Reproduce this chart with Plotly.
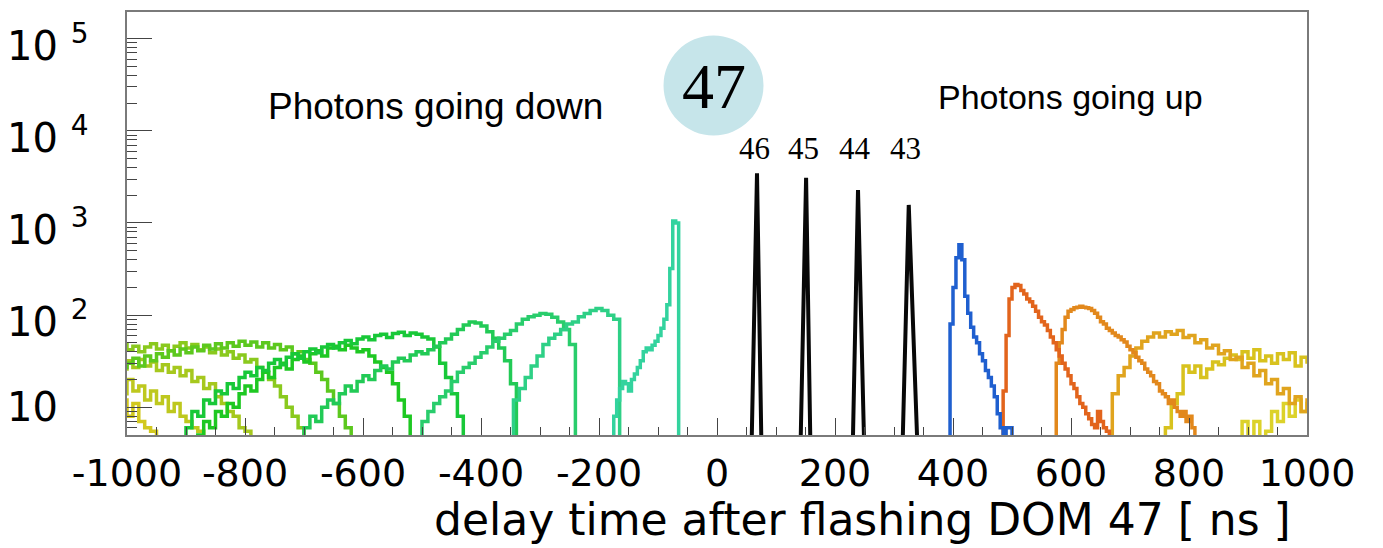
import math
import plotly.graph_objects as go

# ---------------- data (counts per bin) ----------------
# going-down histograms (negative delay), 10 ns or 5 ns bins
d58_start, d58_bin = -1020, 10
d58_counts = [10, 12, 8, 11, 7, 6, 5.5]
d57_start, d57_bin = -1020, 10
d57_counts = [18, 14, 20, 15, 17, 12, 15, 11, 13, 9, 11, 8, 7, 6, 5.5]
d56_start, d56_bin = -1020, 10
d56_counts = [30, 26, 32, 27, 33, 28, 31, 25, 29, 24, 27, 22, 25, 19, 21, 16, 18,
              13, 11, 9, 8, 6, 5.5]
d55_start, d55_bin = -1020, 10
d55_counts = [44, 48, 42, 46, 40, 45, 49, 43, 47, 41, 46, 50, 44, 48, 42, 45, 39,
              43, 37, 40, 34, 37, 31, 33, 27, 24, 20, 17, 13, 10, 8, 6]
d54_start, d54_bin = -1020, 10
d54_counts = [33, 27, 30, 34, 28, 36, 32, 38, 35, 41, 37, 43, 39, 45, 41, 47, 43,
              49, 44, 50, 46, 52, 47, 51, 45, 50, 44, 48, 42, 45, 38, 40, 33, 30,
              24, 20, 15, 11, 8, 6]
d53_start, d53_bin = -880, 10
d53_counts = [5, 7, 6, 9, 8, 11, 10, 14, 17, 15, 20, 24, 21, 27, 30, 26, 33, 36,
              31, 38, 41, 36, 44, 46, 42, 47, 44, 40, 42, 36, 31, 27, 24, 18, 12, 8]
d52_start, d52_bin = -900, 10
d52_counts = [6, 9, 8, 12, 11, 15, 14, 18, 16, 21, 24, 22, 27, 25, 30, 33, 29, 35,
              38, 34, 40, 43, 39, 45, 48, 44, 50, 53, 49, 55, 58, 54, 60, 62, 57,
              63, 65, 60, 64, 62, 58, 55, 45, 30, 21, 14, 8]
d51_start, d51_bin = -700, 10
d51_counts = [6, 8, 7, 10, 12, 11, 14, 17, 15, 19, 22, 20, 25, 28, 26, 31, 34, 32,
              37, 40, 38, 42, 46, 50, 55, 62, 70, 78, 84, 82, 76, 66, 56, 44, 32, 18]
d50_start, d50_bin = -500, 10
d50_counts = [7, 9, 11, 13, 15, 19, 24, 27, 30, 35, 39, 45, 52, 56, 62, 68, 80, 90,
              96, 100, 104, 102, 95, 84, 70, 48]
d49_start, d49_bin = -345, 10
d49_counts = [12, 16, 21, 28, 36, 48, 56, 62, 70, 80, 84, 96, 104, 112, 118, 112,
              100, 90]
d48_start, d48_bin = -175, 5
d48_counts = [8, 12, 16, 19, 18, 15, 20, 23, 27, 32, 40, 44, 42, 47, 52, 60, 72,
              90, 130, 320, 1050, 1000]

# going-up histograms (positive delay)
u42_start, u42_bin = 395, 5
u42_counts = [80, 200, 420, 580, 400, 160, 105, 74, 58, 50, 38, 32, 25, 21, 17, 13,
              8.5, 6, 3, 6, 6]
u41_start, u41_bin = 485, 5
u41_counts = [15, 60, 150, 200, 215, 210, 185, 170, 150, 140, 125, 110, 95, 85, 78,
              68, 58, 50, 42, 36, 30, 26, 22, 18, 16, 13, 11, 10, 8.5, 7.5, 6.5, 6,
              9, 7, 6, 5.5]
u40_start, u40_bin = 575, 5
u40_counts = [30, 50, 70, 95, 110, 115, 120, 122, 125, 122, 120, 118, 112, 105, 95,
              85, 80, 72, 68, 64, 60, 58, 54, 51, 46, 42, 39, 35, 32, 30, 26, 24,
              22, 19, 18, 15, 14, 13, 11, 12, 10, 9, 8, 9, 7, 8, 6]
u39_start, u39_bin = 670, 10
u39_counts = [14, 22, 27, 36, 44, 52, 58, 64, 58, 66, 62, 68, 57, 60, 50, 54, 44,
              47, 38, 41, 33, 35, 27, 30, 22, 25, 18, 20, 14, 16, 11, 13, 9, 12, 10]
u38_start, u38_bin = 760, 10
u38_counts = [6, 11, 14, 28, 24, 28, 21, 26, 31, 29, 34, 37, 33, 40, 34, 42, 32, 36,
              30, 38, 33, 39, 28, 35, 31, 33]
u37_start, u37_bin = 890, 10
u37_counts = [7, 4, 7, 4, 5.5, 9, 7, 11, 8, 12, 9, 11]

# direct-light spikes of the neighbouring DOMs (time, counts)
dom_labels = ["46", "45", "44", "43"]
s46_t = [59, 67.8, 75];   s46_n = [5, 3470, 5]
s45_t = [142, 151, 158];  s45_n = [5, 3100, 5]
s44_t = [230.5, 239, 249]; s44_n = [5, 2280, 5]
s43_t = [315, 325, 339];  s43_n = [5, 1570, 5]

x_tick_vals = [-1000, -800, -600, -400, -200, 0, 200, 400, 600, 800, 1000]
x_tick_text = ["-1000", "-800", "-600", "-400", "-200", "0", "200", "400", "600",
               "800", "1000"]
y_tick_vals = [10, 100, 1000, 10000, 100000]
y_tick_text = ["10", "10 <sup>2</sup>", "10 <sup>3</sup>", "10 <sup>4</sup>",
               "10 <sup>5</sup>"]

# ---------------- figure ----------------
FLOOR = 1.0


def step_xy(start, width, counts):
    edges = [start + i * width for i in range(len(counts) + 1)]
    x = [edges[0]] + edges[:-1] + [edges[-1]]
    y = [FLOOR] + list(counts) + [FLOOR]
    return x, y


hists = [
    (d58_start, d58_bin, d58_counts, "#d2c81e"),
    (d57_start, d57_bin, d57_counts, "#bec81e"),
    (d56_start, d56_bin, d56_counts, "#a6c81e"),
    (d55_start, d55_bin, d55_counts, "#8ac91e"),
    (d54_start, d54_bin, d54_counts, "#5cc81e"),
    (d53_start, d53_bin, d53_counts, "#1ec822"),
    (d52_start, d52_bin, d52_counts, "#18c838"),
    (d51_start, d51_bin, d51_counts, "#22ca56"),
    (d50_start, d50_bin, d50_counts, "#29cd6c"),
    (d49_start, d49_bin, d49_counts, "#2ed086"),
    (d48_start, d48_bin, d48_counts, "#33d39e"),
    (u37_start, u37_bin, u37_counts, "#dcd22a"),
    (u38_start, u38_bin, u38_counts, "#d8c21e"),
    (u39_start, u39_bin, u39_counts, "#e0a41e"),
    (u40_start, u40_bin, u40_counts, "#e2881c"),
    (u41_start, u41_bin, u41_counts, "#e2641c"),
    (u42_start, u42_bin, u42_counts, "#1f5fcf"),
]

fig = go.Figure()
for start, width, counts, color in hists:
    x, y = step_xy(start, width, counts)
    fig.add_trace(go.Scatter(x=x, y=y, mode="lines", line_shape="hv",
                             line=dict(color=color, width=3.5),
                             hoverinfo="skip", showlegend=False))

for t, n in [(s46_t, s46_n), (s45_t, s45_n), (s44_t, s44_n), (s43_t, s43_n)]:
    fig.add_trace(go.Scatter(x=t, y=n, mode="lines",
                             line=dict(color="#080808", width=4),
                             hoverinfo="skip", showlegend=False))

# The page body has an 8 px margin, so the figure is drawn 8 px in from the
# window corner; target positions below are in window pixels.
OFF = 8
WIN_W, WIN_H = 1383, 548
W, H = WIN_W - OFF, WIN_H - OFF
PLOT_L, PLOT_R, PLOT_T, PLOT_B = 127, 1307, 12, 435   # window pixels
L, T = PLOT_L - OFF, PLOT_T - OFF
R, B = (OFF + W) - PLOT_R, (OFF + H) - PLOT_B
PW, PH = PLOT_R - PLOT_L, PLOT_B - PLOT_T


def px(xp):
    return (xp - PLOT_L) / PW


def py(yp):
    return (PLOT_B - yp) / PH


annotations = []
# y tick labels (left aligned like the original)
for v, txt in zip(y_tick_vals, y_tick_text):
    annotations.append(dict(x=px(5), xref="paper", y=math.log10(v), yref="y",
                            text=txt, showarrow=False, xanchor="left",
                            yanchor="middle", yshift=-4 if "sup" in txt else 0,
                            font=dict(family="DejaVu Sans", size=40, color="black")))

# axis title
annotations.append(dict(x=px(862), xref="paper", y=py(519), yref="paper",
                        text="delay time after flashing DOM 47 [ ns ]",
                        showarrow=False, xanchor="center", yanchor="middle",
                        font=dict(family="DejaVu Sans", size=44, color="black")))

annotations.append(dict(x=px(435.5), xref="paper", y=py(106), yref="paper",
                        text="Photons going down", showarrow=False,
                        xanchor="center", yanchor="middle",
                        font=dict(family="Liberation Sans", size=37, color="black")))
annotations.append(dict(x=px(1070), xref="paper", y=py(97), yref="paper",
                        text="Photons going up", showarrow=False,
                        xanchor="center", yanchor="middle",
                        font=dict(family="Liberation Sans", size=34, color="black")))
annotations.append(dict(x=-5.9, xref="x", y=py(86), yref="paper",
                        text="47", showarrow=False, xanchor="center",
                        yanchor="middle",
                        font=dict(family="Liberation Serif", size=64, color="black")))
for lab, t in zip(dom_labels, [s46_t[1], s45_t[1], s44_t[1], s43_t[1]]):
    annotations.append(dict(x=t, xref="x", y=py(148), yref="paper", text=lab,
                            showarrow=False, xanchor="center", yanchor="middle",
                            xshift=-3,
                            font=dict(family="Liberation Serif", size=31,
                                      color="black")))

shapes = [dict(type="circle", xref="x", yref="paper", xsizemode="pixel",
               ysizemode="pixel", xanchor=-5.9, yanchor=py(85.5),
               x0=-50, x1=50, y0=-50, y1=50,
               fillcolor="#c6e5ea", line=dict(width=0), layer="below")]

minor_y = [m * 10 ** k for k in range(0, 6) for m in range(2, 10)]

fig.update_layout(
    width=W, height=H,
    margin=dict(l=L, r=R, t=T, b=B, autoexpand=False),
    paper_bgcolor="white", plot_bgcolor="white",
    showlegend=False,
    annotations=annotations,
    shapes=shapes,
    xaxis=dict(range=[-1000, 1000], tickvals=x_tick_vals, ticktext=x_tick_text,
               ticks="inside", ticklen=17, tickwidth=1.2, tickcolor="#444",
               minor=dict(dtick=50, tick0=0, ticks="inside", ticklen=8,
                          tickwidth=1, tickcolor="#444", showgrid=False),
               showline=True, linecolor="#7a7a7a", linewidth=1.5, mirror=True,
               showgrid=False, zeroline=False, ticklabelstandoff=4,
               tickfont=dict(family="DejaVu Sans", size=38, color="black")),
    yaxis=dict(type="log", range=[math.log10(5), 5.29], tickvals=y_tick_vals,
               showticklabels=False, ticks="inside", ticklen=25, tickwidth=1.2,
               tickcolor="#444",
               minor=dict(tickvals=minor_y, ticks="inside", ticklen=10,
                          tickwidth=1, tickcolor="#444", showgrid=False),
               showline=True, linecolor="#7a7a7a", linewidth=1.5, mirror=True,
               showgrid=False, zeroline=False),
)

fig.write_html("out.html")
